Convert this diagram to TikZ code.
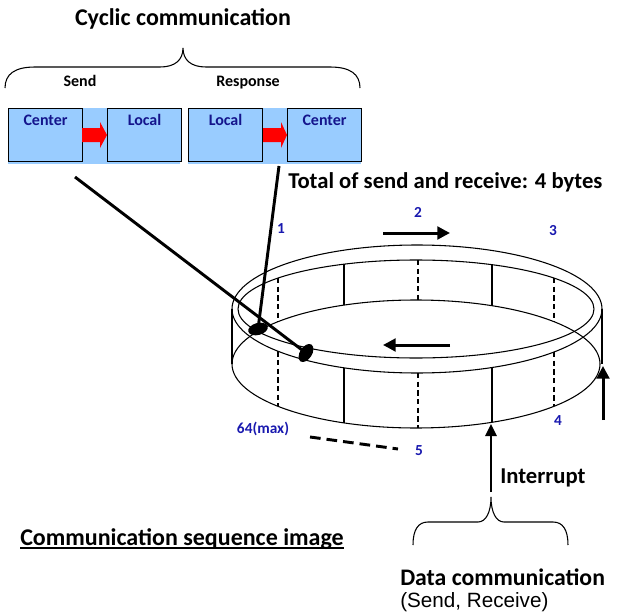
\documentclass[tikz,border=0pt]{standalone}
\usepackage{fontspec}
\setmainfont{Carlito}
\newfontfamily\arialfont{Liberation Sans}
\usetikzlibrary{arrows.meta,shapes.geometric,calc}
\definecolor{boxfill}{HTML}{99CCFF}
\definecolor{boxtext}{RGB}{20,20,140}
\definecolor{numblue}{RGB}{25,25,175}
\definecolor{redarrow}{HTML}{FF0000}
\begin{document}
\begin{tikzpicture}[x=0.75pt,y=-0.75pt,
  ring/.style={line width=0.8pt},
  ringdash/.style={line width=1.7pt, dash pattern=on 4pt off 2.5pt},
  box/.style={draw=black, line width=0.8pt, fill=boxfill, minimum width=55.5pt, minimum height=39.75pt, inner sep=0pt, anchor=north west},
  boxlabel/.style={font=\bfseries\fontsize{12}{14}\selectfont, text=boxtext, anchor=base, inner sep=0pt},
  numlabel/.style={font=\bfseries\fontsize{11.5}{13}\selectfont, text=numblue, anchor=base, inner sep=0pt},
  bigtext/.style={font=\bfseries\fontsize{17}{20}\selectfont, inner sep=0pt, anchor=base west},
  thickarrow/.style={line width=2.25pt, -{Triangle[length=9.5pt,width=9.5pt]}},
  pointer/.style={line width=2.2pt},
  marker/.style={ellipse, fill=black, minimum width=15pt, minimum height=9pt, inner sep=0pt},
  brace/.style={line width=0.8pt},
  redblock/.style={fill=redarrow},
]
\useasboundingbox (0,0) rectangle (619,614);

% title and top brace
\node[font=\bfseries\fontsize{18}{22}\selectfont, anchor=base, inner sep=0pt] (title) at (183,26) {Cyclic communication};
\draw[brace] (5,88) .. controls (5,74) and (15,67) .. (35,67) -- (160,67) .. controls (175,67) and (183,60) .. (183,48) .. controls (183,60) and (191,67) .. (206,67) -- (330,67) .. controls (350,67) and (360,74) .. (360,88);
\node[font=\bfseries\fontsize{12}{14}\selectfont, anchor=base, inner sep=0pt] (send) at (80,86) {Send};
\node[font=\bfseries\fontsize{12}{14}\selectfont, anchor=base, inner sep=0pt] (resp) at (248,86) {Response};

% boxes
\fill[boxfill] (8,108) rectangle (180,164);
\fill[boxfill] (188,108) rectangle (361,164);
\node[box] (c1) at (8,108) {};
\node[box] (l1) at (107,108) {};
\node[box] (l2) at (188,108) {};
\node[box] (c2) at (287,108) {};
\node[boxlabel] at ($(c1.north)+(0,17)$) {Center};
\node[boxlabel] at ($(l1.north)+(0,17)$) {Local};
\node[boxlabel] at ($(l2.north)+(0,17)$) {Local};
\node[boxlabel] at ($(c2.north)+(0,17)$) {Center};
\fill[redblock] (82,128) -- (100,128) -- (100,122) -- (107,135) -- (100,148) -- (100,142) -- (82,142) -- cycle;
\fill[redblock] (263,128) -- (281,128) -- (281,122) -- (287,135) -- (281,148) -- (281,142) -- (263,142) -- cycle;

\node[bigtext] (total) at (288,188) {Total of send and receive: 4 bytes};

% ring
\draw[ring] (417,309) ellipse [x radius=138.75pt, y radius=48pt];
\draw[ring] (416,309) ellipse [x radius=133.5pt, y radius=36.75pt];
\draw[ring] (416,364) ellipse [x radius=138pt, y radius=48pt];
\draw[ring] (232,309) -- (232,364);
\draw[ring] (602,309) -- (602,364);
\draw[ringdash] (278,278) -- (278,321.7);
\draw[ring] (344,264.2) -- (344,305.1);
\draw[ringdash] (418,260) -- (418,300);
\draw[ring] (492,264.7) -- (492,305.7);
\draw[ringdash] (554,278) -- (554,321.7);
\draw[ringdash] (278,351.3) -- (278,406.3);
\draw[ring] (344,367.8) -- (344,422.9);
\draw[ringdash] (418,373) -- (418,428);
\draw[ring] (492,367.5) -- (492,422.3);
\draw[ringdash] (554,352) -- (554,406.3);

% markers and pointers
\node[marker, rotate=15] (m1) at (258,329) {};
\node[marker, rotate=57] (m2) at (306,353) {};
\coordinate (pA) at (75,177);
\coordinate (pB) at (279,166);
\draw[pointer] (pA) -- (m2.center);
\draw[pointer] (pB) -- (m1.center);

% direction arrows
\coordinate (t1) at (383,233); \coordinate (t2) at (450,233);
\draw[thickarrow] (t1) -- (t2);
\coordinate (i1) at (450,345); \coordinate (i2) at (383,345);
\draw[thickarrow] (i1) -- (i2);
\coordinate (r1) at (603,420); \coordinate (r2) at (603,366);
\draw[thickarrow] (r1) -- (r2);

% numbers
\node[numlabel] (n1) at (281,233) {1};
\node[numlabel] (n2) at (418,217) {2};
\node[numlabel] (n3) at (553,235) {3};
\node[numlabel] (n4) at (558,425) {4};
\node[numlabel] (n5) at (419,455) {5};
\node[numlabel] (nmax) at (263,433) {64(max)};
\coordinate (d1) at (310,437); \coordinate (d2) at (398,449);
\draw[line width=2.2pt, dash pattern=on 8pt off 4.5pt] (d1) -- (d2);

% interrupt
\coordinate (q1) at (491,492); \coordinate (q2) at (491,424);
\draw[line width=1.6pt, -{Triangle[length=9pt,width=8.5pt]}] (q1) -- (q2);
\node[bigtext] (irq) at (500,483) {Interrupt};
\draw[brace] (413,545) .. controls (413,530) and (418,522) .. (428,522) -- (478,522) .. controls (486,522) and (491,512) .. (491,497) .. controls (491,512) and (496,522) .. (504,522) -- (553,522) .. controls (563,522) and (568,530) .. (568,545);
\node[bigtext, font=\bfseries\fontsize{17.8}{20}\selectfont] (dc) at (400,585) {Data communication};
\node[font=\arialfont\fontsize{15.5}{18}\selectfont, anchor=base west, inner sep=0pt] (sr) at (400,607) {(Send, Receive)};

% caption
\node[bigtext, font=\bfseries\fontsize{18}{21}\selectfont] (csi) at (20,545) {Communication sequence image};
\draw[line width=1.5pt] ($(csi.base west)+(0,3)$) -- ($(csi.base east)+(0,3)$);
\end{tikzpicture}
\end{document}
